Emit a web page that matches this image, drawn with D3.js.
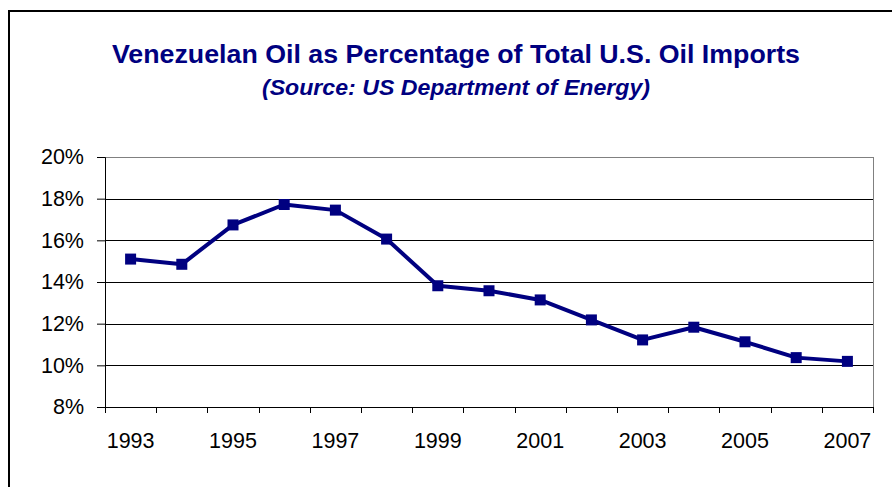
<!DOCTYPE html>
<html>
<head>
<meta charset="utf-8">
<script src="https://cdn.jsdelivr.net/npm/d3@7"></script>
<style>
body { margin:0; background:#fff; }
svg { font-family: "Liberation Sans", Arial, sans-serif; }
</style>
</head>
<body>
<svg id="svg" width="892" height="487"></svg>
<script>
var years=[1993,1994,1995,1996,1997,1998,1999,2000,2001,2002,2003,2004,2005,2006,2007];
var share=[15.1,14.85,16.74,17.72,17.45,16.06,13.82,13.58,13.14,12.18,11.22,11.83,11.13,10.37,10.19];
var yTicks=[8,10,12,14,16,18,20];
var titleText="Venezuelan Oil as Percentage of Total U.S. Oil Imports";
var subText="(Source: US Department of Energy)";

var svg=d3.select("#svg");
var navy="#000080";

// outer chart frame
svg.append("rect")
    .attr("x",9).attr("y",11)
    .attr("width",900).attr("height",500)
    .attr("fill","none").attr("stroke","#000").attr("stroke-width",2);

var padding={top:157,right:19,bottom:80,left:105};
var chartArea={
    "width":892-padding.left-padding.right,
    "height":487-padding.top-padding.bottom
};

var xScale=d3.scaleBand()
    .domain(years)
    .range([0,chartArea.width])
    .padding(0);

var yScale=d3.scaleLinear()
    .domain([8,20])
    .range([chartArea.height,0]);

var g=svg.append("g")
    .attr("transform","translate("+padding.left+","+padding.top+")");

// grid lines
g.append("g")
    .selectAll("line")
    .data(yTicks.slice(1))
    .enter().append("line")
    .attr("x1",0).attr("x2",chartArea.width)
    .attr("y1",function(d){return Math.round(yScale(d))+0.5;})
    .attr("y2",function(d){return Math.round(yScale(d))+0.5;})
    .attr("stroke",function(d){return d==20 ? "#808080" : "#000";})
    .attr("stroke-width",1);

// right border
g.append("line")
    .attr("x1",chartArea.width+0.5).attr("x2",chartArea.width+0.5)
    .attr("y1",0).attr("y2",chartArea.height)
    .attr("stroke","#808080");

// y axis
var yAxis=g.append("g")
    .call(d3.axisLeft(yScale)
        .tickValues(yTicks)
        .tickSize(8)
        .tickPadding(13)
        .tickFormat(function(d){return d+"%";}));
yAxis.select(".domain").attr("stroke","#000");
yAxis.selectAll("text")
    .attr("font-size","21.5px")
    .attr("font-family","'Liberation Sans', Arial, sans-serif")
    .attr("fill","#000");

// x axis: ticks at category boundaries, labels on every other year
var xAxis=g.append("g")
    .attr("transform","translate(0,"+chartArea.height+")");
xAxis.append("line")
    .attr("x1",0).attr("x2",chartArea.width)
    .attr("y1",0.5).attr("y2",0.5)
    .attr("stroke","#000");
var bounds=years.map(function(d){return xScale(d);}).concat([chartArea.width]);
xAxis.selectAll(".xtick")
    .data(bounds)
    .enter().append("line")
    .attr("class","xtick")
    .attr("x1",function(d){return Math.round(d)+0.5;})
    .attr("x2",function(d){return Math.round(d)+0.5;})
    .attr("y1",0).attr("y2",6)
    .attr("stroke","#000");
xAxis.selectAll(".xlabel")
    .data(years.filter(function(d){return d%2==1;}))
    .enter().append("text")
    .attr("class","xlabel")
    .attr("x",function(d){return xScale(d)+xScale.bandwidth()/2;})
    .attr("y",41)
    .attr("text-anchor","middle")
    .attr("font-size","21.5px")
    .attr("fill","#000")
    .text(function(d){return d;});

// series line
var pts=years.map(function(d,i){return {year:d,val:share[i]};});
var line=d3.line()
    .x(function(d){return xScale(d.year)+xScale.bandwidth()/2;})
    .y(function(d){return yScale(d.val);});

g.append("path")
    .datum(pts)
    .attr("d",line)
    .attr("fill","none")
    .attr("stroke",navy)
    .attr("stroke-width",4)
    .attr("stroke-linejoin","round");

g.selectAll(".mark")
    .data(pts)
    .enter().append("rect")
    .attr("class","mark")
    .attr("x",function(d){return xScale(d.year)+xScale.bandwidth()/2-5.5;})
    .attr("y",function(d){return yScale(d.val)-5.5;})
    .attr("width",11).attr("height",11)
    .attr("fill",navy);

// titles
svg.append("text")
    .attr("x",456).attr("y",63)
    .attr("text-anchor","middle")
    .attr("font-size","26px")
    .attr("font-weight","bold")
    .attr("fill",navy)
    .attr("textLength",688)
    .attr("lengthAdjust","spacingAndGlyphs")
    .text(titleText);

svg.append("text")
    .attr("x",456).attr("y",95)
    .attr("text-anchor","middle")
    .attr("font-size","22px")
    .attr("font-weight","bold")
    .attr("font-style","italic")
    .attr("fill",navy)
    .attr("textLength",388)
    .attr("lengthAdjust","spacingAndGlyphs")
    .text(subText);
</script>
</body>
</html>
